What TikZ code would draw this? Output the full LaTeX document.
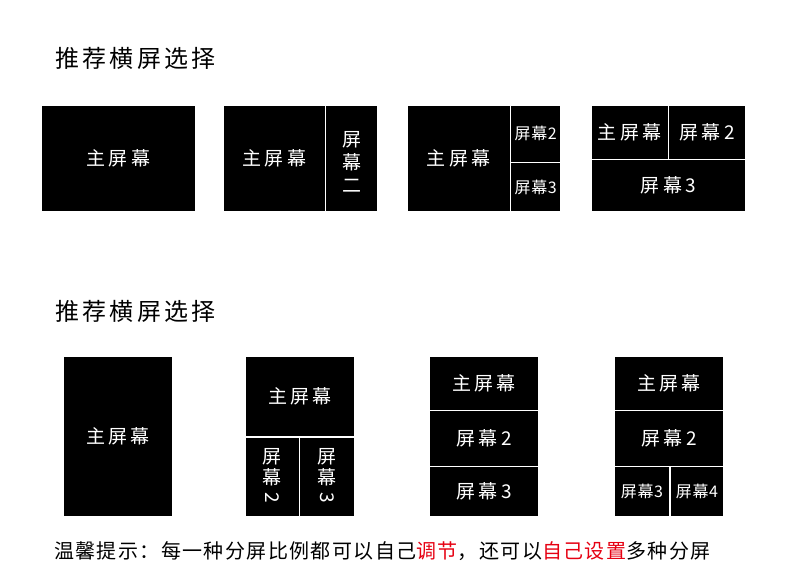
\documentclass[tikz,border=0pt]{standalone}
\usepackage{fontspec}
\usepackage{graphicx}
\newfontfamily\cjkT[LetterSpace=14]{Noto Sans CJK SC}
\newfontfamily\cjkB[LetterSpace=18]{Noto Sans CJK SC}
\newfontfamily\cjkS[LetterSpace=4]{Noto Sans CJK SC}
\newfontfamily\cjkH[LetterSpace=7]{Noto Sans CJK SC}
\newfontfamily\cjkV{Noto Sans CJK SC}
\definecolor{hintred}{HTML}{E60012}
\tikzset{
  scr/.style={fill=black, draw=white, line width=1.3pt, text=white, inner sep=0pt, align=center},
  big/.style={font=\cjkB\fontsize{19}{24}\selectfont},
  small/.style={font=\cjkS\fontsize{16}{20}\selectfont},
  vert/.style={font=\cjkV\fontsize{19}{24}\selectfont},
  vertb/.style={font=\cjkV\fontsize{19}{21.5}\selectfont},
  title/.style={anchor=west, inner sep=0pt, font=\cjkT\fontsize{24}{28}\selectfont},
  hint/.style={anchor=west, inner sep=0pt, font=\cjkH\fontsize{20}{24}\selectfont}
}
\newcommand\Scr[7]{%
  \pgfmathsetmacro\scrw{#4-#2}%
  \pgfmathsetmacro\scrh{#5-#3}%
  \node[scr, #7, minimum width=\scrw pt, minimum height=\scrh pt] (#1) at ({(#2+#4)/2},{(#3+#5)/2}) {#6};}
\begin{document}
\begin{tikzpicture}[x=1pt, y=-1pt]
\useasboundingbox[fill=white] (0,0) rectangle (790,586);
% titles
\node[title] (t1) at (55,58) {推荐横屏选择};
\node[title] (t2) at (55,311) {推荐横屏选择};
% row 1
\Scr{a1}{41}{105}{196}{212}{主屏幕}{big}
\Scr{b1}{223}{105}{325.5}{212}{主屏幕}{big}
\Scr{b2}{325.5}{105}{378}{212}{\raisebox{-11pt}[0pt][0pt]{\begin{tabular}{@{}c@{}}屏\\[-1pt]幕\\[-1pt]二\end{tabular}}}{vert}
\Scr{c1}{407}{105}{510.5}{212}{主屏幕}{big}
\Scr{c2}{510.5}{105}{561}{162.5}{屏幕2}{small}
\Scr{c3}{510.5}{162.5}{561}{212}{屏幕3}{small}
\Scr{d1}{591}{105}{668.5}{159.5}{主屏幕}{big}
\Scr{d2}{668.5}{105}{746}{159.5}{屏幕2}{big}
\Scr{d3}{591}{159.5}{746}{212}{屏幕3}{big}
% row 2
\Scr{e1}{63}{356}{173}{517}{主屏幕}{big}
\Scr{f1}{245}{356}{355}{437}{主屏幕}{big}
\Scr{f2}{245}{437}{299.5}{517}{屏\\幕\\\raisebox{1pt}{\rotatebox[origin=c]{-90}{2}}}{vertb}
\Scr{f3}{299.5}{437}{355}{517}{屏\\幕\\\raisebox{1pt}{\rotatebox[origin=c]{-90}{3}}}{vertb}
\Scr{g1}{429}{356}{539}{410.5}{主屏幕}{big}
\Scr{g2}{429}{410.5}{539}{466.5}{屏幕2}{big}
\Scr{g3}{429}{466.5}{539}{517}{屏幕3}{big}
\Scr{h1}{614}{356}{724}{410.5}{主屏幕}{big}
\Scr{h2}{614}{410.5}{724}{466.5}{屏幕2}{big}
\Scr{h3}{614}{466.5}{670}{517}{屏幕3}{small}
\Scr{h4}{670}{466.5}{724}{517}{屏幕4}{small}
% hint
\node[hint] (hint) at (54,551) {温馨提示：每一种分屏比例都可以自己\textcolor{hintred}{调节}，还可以\textcolor{hintred}{自己设置}多种分屏};
\end{tikzpicture}
\end{document}
